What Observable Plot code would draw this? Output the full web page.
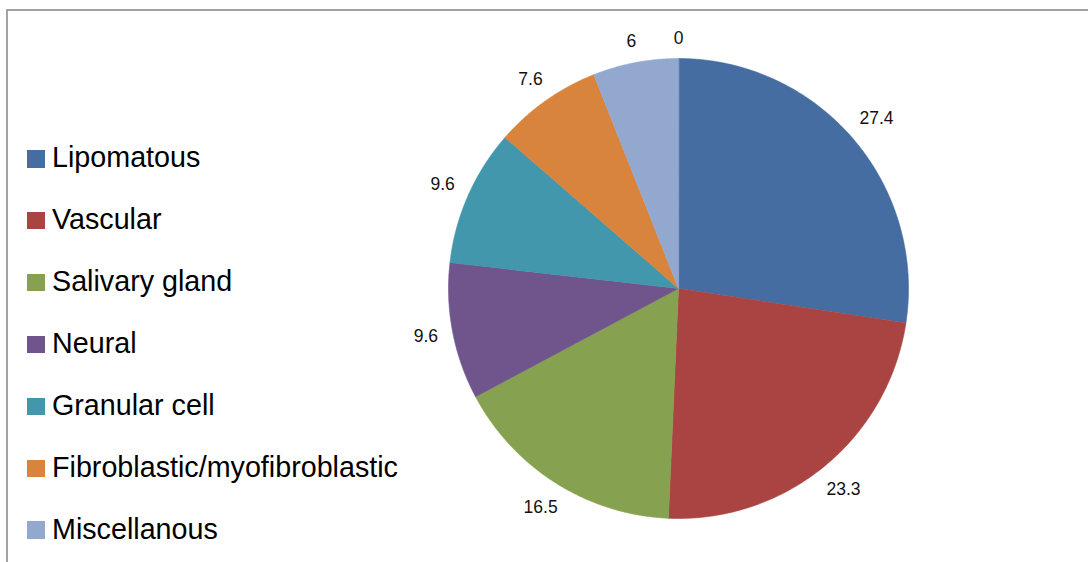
<!DOCTYPE html>
<html>
<head>
<meta charset="utf-8">
<script src="https://cdn.jsdelivr.net/npm/d3@7"></script>
<script src="https://cdn.jsdelivr.net/npm/@observablehq/plot@0.6"></script>
<style>
  html, body { margin: 0; padding: 0; background: #fff; overflow: hidden; }
  body { width: 1088px; height: 562px; position: relative; font-family: "Liberation Sans", Arial, sans-serif; }
  #frame { position: absolute; left: 6px; top: 9px; width: 1090px; height: 570px;
           border-top: 2px solid #a2a2a2; border-left: 2px solid #a2a2a2; box-sizing: border-box; }
  #chart { position: absolute; left: 0; top: 0; }
  #legend { position: absolute; left: 27px; top: 143.3px; }
  .row { height: 61.9px; position: relative; }
  .sw { position: absolute; left: 0; top: 6.8px; width: 17.5px; height: 17.5px; }
  .lb { position: absolute; left: 25px; top: 0; font-size: 28.7px; line-height: 28.7px; color: #000; white-space: nowrap; }
</style>
</head>
<body>
<div id="frame"></div>
<div id="chart"></div>
<div id="legend"></div>
<script>
// ---- data ----
const categories = ["Lipomatous", "Vascular", "Salivary gland", "Neural", "Granular cell", "Fibroblastic/myofibroblastic", "Miscellanous", "Other"];
const values = [27.4, 23.3, 16.5, 9.6, 9.6, 7.6, 6, 0];
const labels = ["27.4", "23.3", "16.5", "9.6", "9.6", "7.6", "6", "0"];
const colors = ["#466DA2", "#AA4443", "#86A14F", "#70558D", "#4297AC", "#D8843C", "#93A8CE", "#C9908F"];
const legendCount = 7; // entries visible in the picture

// ---- layout (pixels) ----
const W = 1088, H = 562;
const cx = 678, cy = 288, R = 230;
const labelFont = 17.5;

const arcs = d3.pie().sort(null)(values);

// slice polygons
const points = [];
arcs.forEach((a, i) => {
  if (a.endAngle - a.startAngle <= 0) return;
  const n = Math.max(2, Math.ceil((a.endAngle - a.startAngle) / (Math.PI / 360)));
  points.push({cat: categories[i], x: 0, y: 0});
  for (let k = 0; k <= n; k++) {
    const t = a.startAngle + (a.endAngle - a.startAngle) * k / n;
    points.push({cat: categories[i], x: R * Math.sin(t), y: R * Math.cos(t)});
  }
});

// label positions (outside end)
function textWidth(s) {
  let w = 0;
  for (const c of s) w += (c === ".") ? 0.278 : 0.556;
  return w * labelFont;
}
const labelData = arcs.map((a, i) => {
  const m = (a.startAngle + a.endAngle) / 2;
  const s = Math.sin(m), c = Math.cos(m);
  const w = textWidth(labels[i]), h = 13;
  const d = R + 14 + (w / 2) * Math.abs(s) + (h / 2) * Math.abs(c);
  return {text: labels[i], x: d * s, y: d * c};
});

const chart = Plot.plot({
  width: W,
  height: H,
  margin: 0,
  x: {domain: [-cx, W - cx], range: [0, W], axis: null},
  y: {domain: [-(H - cy), cy], range: [H, 0], axis: null},
  color: {domain: categories, range: colors},
  style: {fontFamily: "'Liberation Sans', Arial, sans-serif", background: "transparent", overflow: "visible"},
  marks: [
    Plot.line(points, {x: "x", y: "y", z: "cat", fill: "cat", stroke: "cat", strokeWidth: 0.6, curve: "linear-closed"}),
    Plot.text(labelData, {x: "x", y: "y", text: "text", fontSize: labelFont, fill: "#111", textAnchor: "middle", lineAnchor: "middle"})
  ]
});
document.getElementById("chart").appendChild(chart);

// legend
const legend = document.getElementById("legend");
categories.slice(0, legendCount).forEach((name, i) => {
  const row = document.createElement("div");
  row.className = "row";
  const sw = document.createElement("div");
  sw.className = "sw";
  sw.style.background = colors[i];
  const lb = document.createElement("div");
  lb.className = "lb";
  lb.textContent = name;
  row.appendChild(sw);
  row.appendChild(lb);
  legend.appendChild(row);
});
</script>
</body>
</html>
